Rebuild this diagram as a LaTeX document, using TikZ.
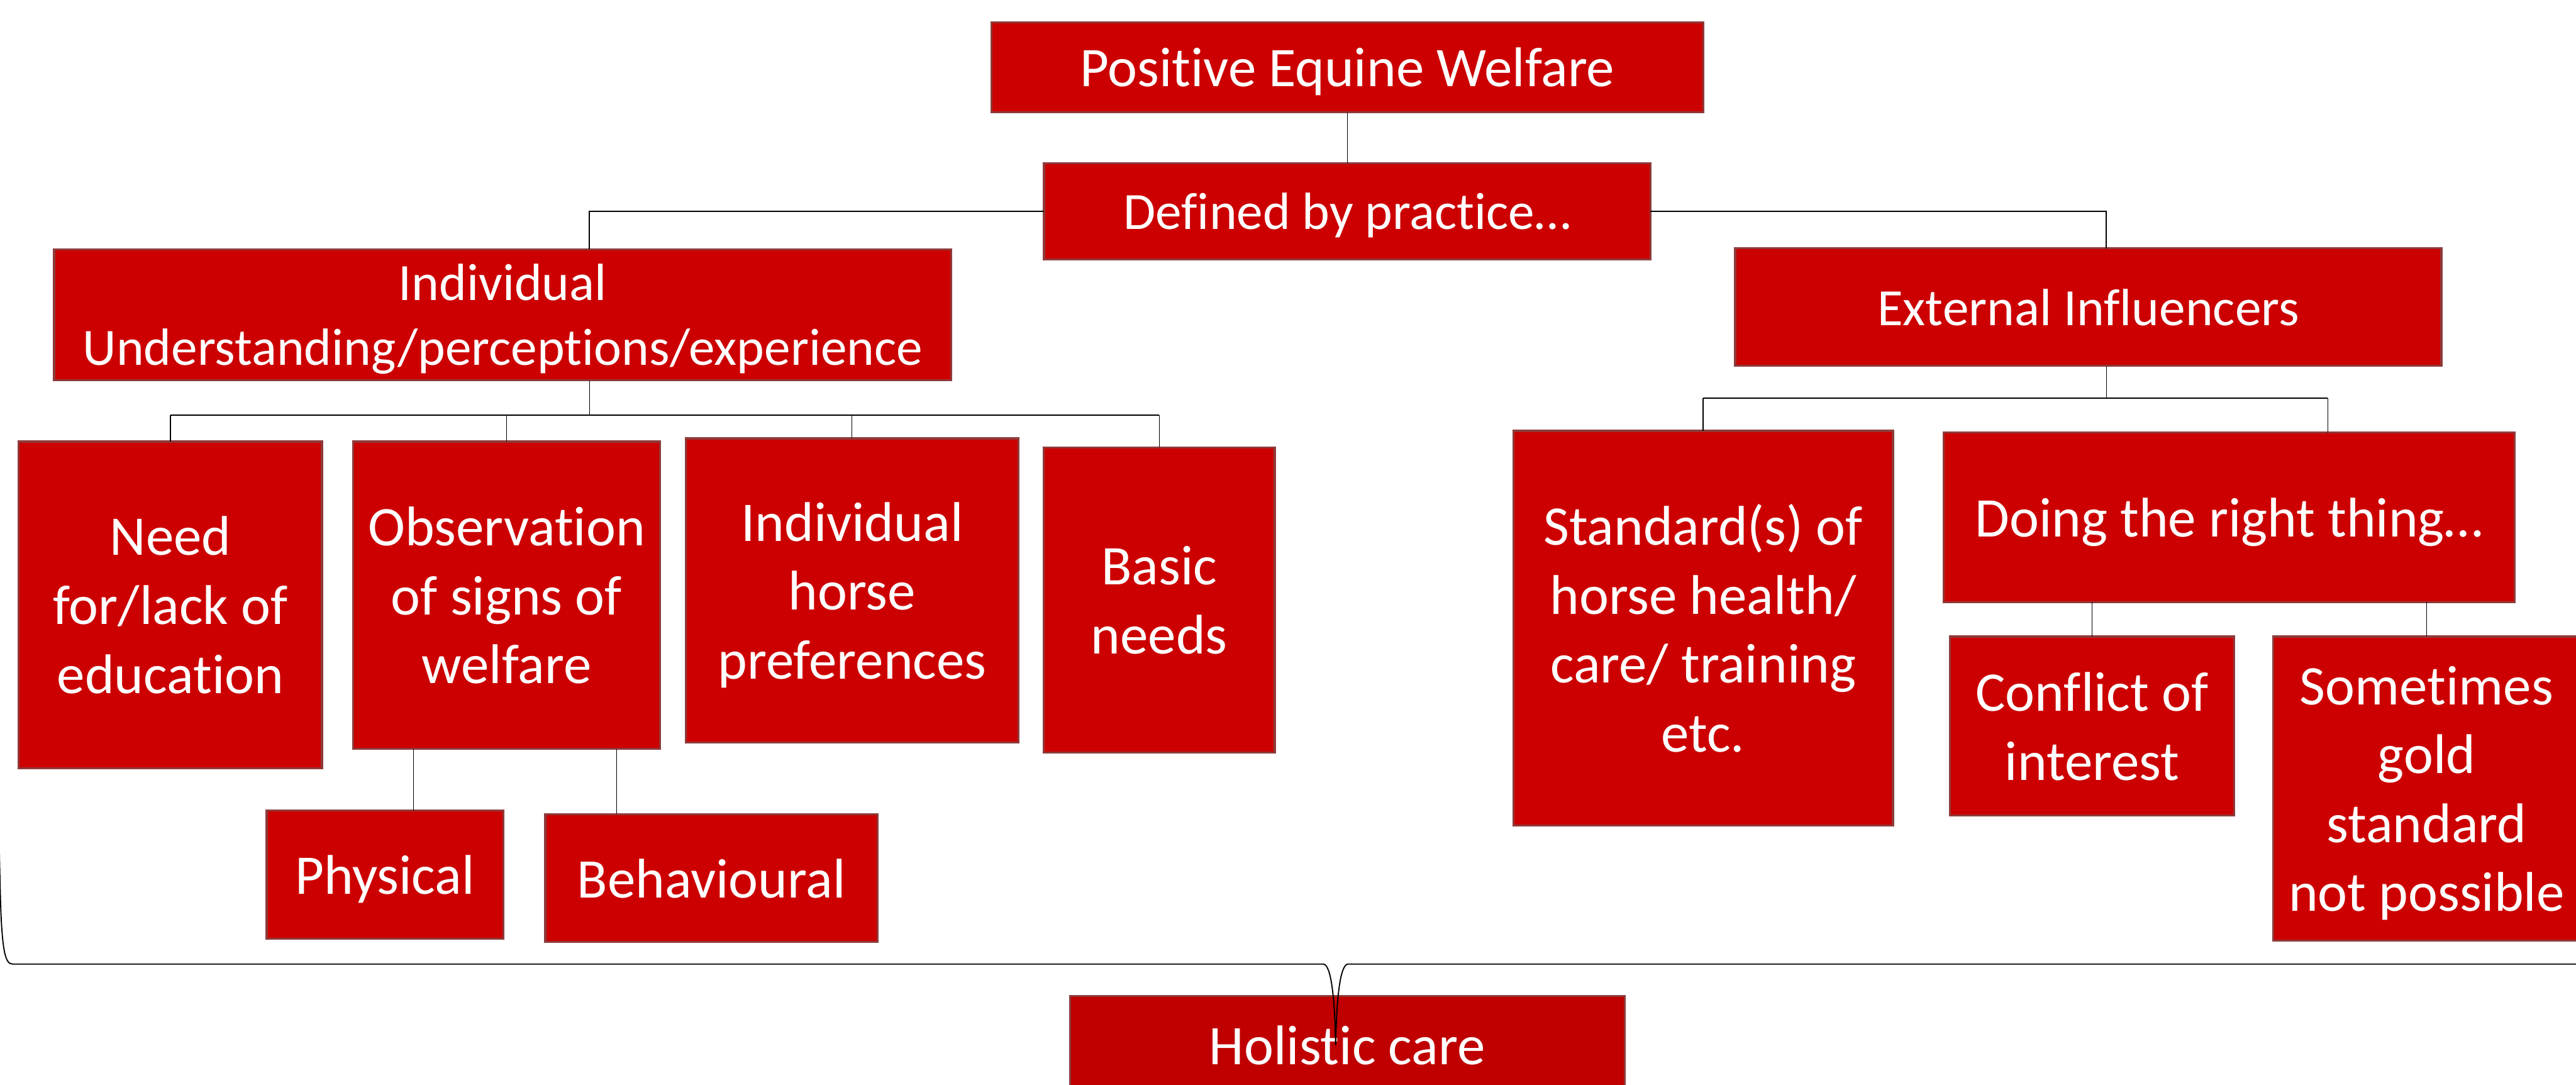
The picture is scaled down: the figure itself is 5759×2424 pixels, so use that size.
\documentclass[tikz,border=0pt]{standalone}
\usepackage{fontspec}
\setmainfont{Carlito}[Ligatures=NoCommon]
\definecolor{boxred}{HTML}{CC0000}
\definecolor{boxdark}{HTML}{C00000}
\definecolor{boxedge}{HTML}{8E3B3B}

% a red card given by its corners (x1,y1) and (x2,y2), in pixel units
\newcommand{\wbox}[7][]{%
  \node[card,#1,minimum width={(#5-#3)*0.01cm},minimum height={(#6-#4)*0.01cm}]
    (#2) at ({(#3+#5)/2},{(#4+#6)/2}) {#7};}

\begin{document}
\begin{tikzpicture}[x=0.01cm,y=-0.01cm,
  card/.style={draw=boxedge,fill=boxred,line width=0.045cm,text=white,
    inner sep=0pt,outer sep=0pt,align=center,text depth=0pt,
    font=\fontsize{35.57}{43.8}\selectfont},
  smaller/.style={font=\fontsize{33.3}{41.2}\selectfont},
  link/.style={draw=black,line width=0.45pt},
  bus/.style={draw=black,line width=0.75pt},
  brace/.style={draw=black,line width=0.75pt}]
\useasboundingbox (0,0) rectangle (5759,2424);
\clip (0,0) rectangle (5759,2424);

% cards
\wbox{pew}{2216}{50}{3808}{251}{Positive Equine Welfare}
\wbox[smaller]{def}{2334}{365}{3690}{580}{Defined by practice…}
\wbox[smaller]{ind}{121}{557}{2127}{850}{Individual\\Understanding/perceptions/experience}
\wbox[smaller]{ext}{3879}{555}{5458}{818}{External Influencers}
\wbox{need}{42}{987}{720}{1717}{Need\\for/lack of\\education}
\wbox{obs}{789}{987}{1476}{1674}{Observation\\of signs of\\welfare}
\wbox{ih}{1533}{980}{2277}{1660}{Individual\\horse\\preferences}
\wbox{bn}{2333}{1000}{2850}{1682}{Basic\\needs}
\wbox{phys}{596}{1812}{1125}{2098}{Physical}
\wbox{beh}{1219}{1820}{1962}{2106}{Behavioural}
\wbox{std}{3383}{963}{4232}{1845}{Standard(s) of\\horse health/\\care/ training\\etc.}
\wbox{doing}{4345}{967}{5622}{1346}{Doing the right thing…}
\wbox{conf}{4359}{1423}{4995}{1823}{Conflict of\\interest}
\wbox{some}{5082}{1423}{5768}{2103}{Sometimes\\gold\\standard\\not possible}
\wbox[fill=boxdark]{hol}{2392}{2226}{3632}{2446}{Holistic care}

% tap points of the connectors
\coordinate (tapI) at (1318,0);
\coordinate (tapE) at (4709,0);
\coordinate (tapD) at (5204,0);
\coordinate (tapP) at (925,0);
\coordinate (tapB) at (1379,0);
\coordinate (busL) at (0,928);
\coordinate (busR) at (0,890);

% top of the tree
\draw[link] (pew.south) -- (def.north);
\draw[bus] (def.west) -| (ind.north -| tapI);
\draw[bus] (def.east) -| (ext.north -| tapE);

% left branch
\draw[link] (ind.south -| tapI) -- (tapI |- busL);
\draw[bus] (need.north |- busL) -- (bn.north |- busL);
\draw[link] (need.north |- busL) -- (need.north);
\draw[link] (obs.north |- busL) -- (obs.north);
\draw[link] (ih.north |- busL) -- (ih.north);
\draw[link] (bn.north |- busL) -- (bn.north);
\draw[link] (obs.south -| tapP) -- (phys.north -| tapP);
\draw[link] (obs.south -| tapB) -- (beh.north -| tapB);

% right branch
\draw[link] (ext.south -| tapE) -- (tapE |- busR);
\draw[bus] (std.north |- busR) -- (tapD |- busR);
\draw[link] (std.north |- busR) -- (std.north);
\draw[link] (tapD |- busR) -- (doing.north -| tapD);
\draw[link] (doing.south -| conf.north) -- (conf.north);
\draw[link] (doing.south -| some.north) -- (some.north);

% brace gathering everything into holistic care
\draw[brace] (-2,1880) -- (0,1967)
  .. controls (3,2120) and (10,2155) .. (28,2155)
  -- (2958,2155)
  .. controls (2976,2155) and (2984,2230) .. (2986,2337)
  .. controls (2988,2230) and (2996,2155) .. (3014,2155)
  -- (5800,2155);
\end{tikzpicture}
\end{document}
